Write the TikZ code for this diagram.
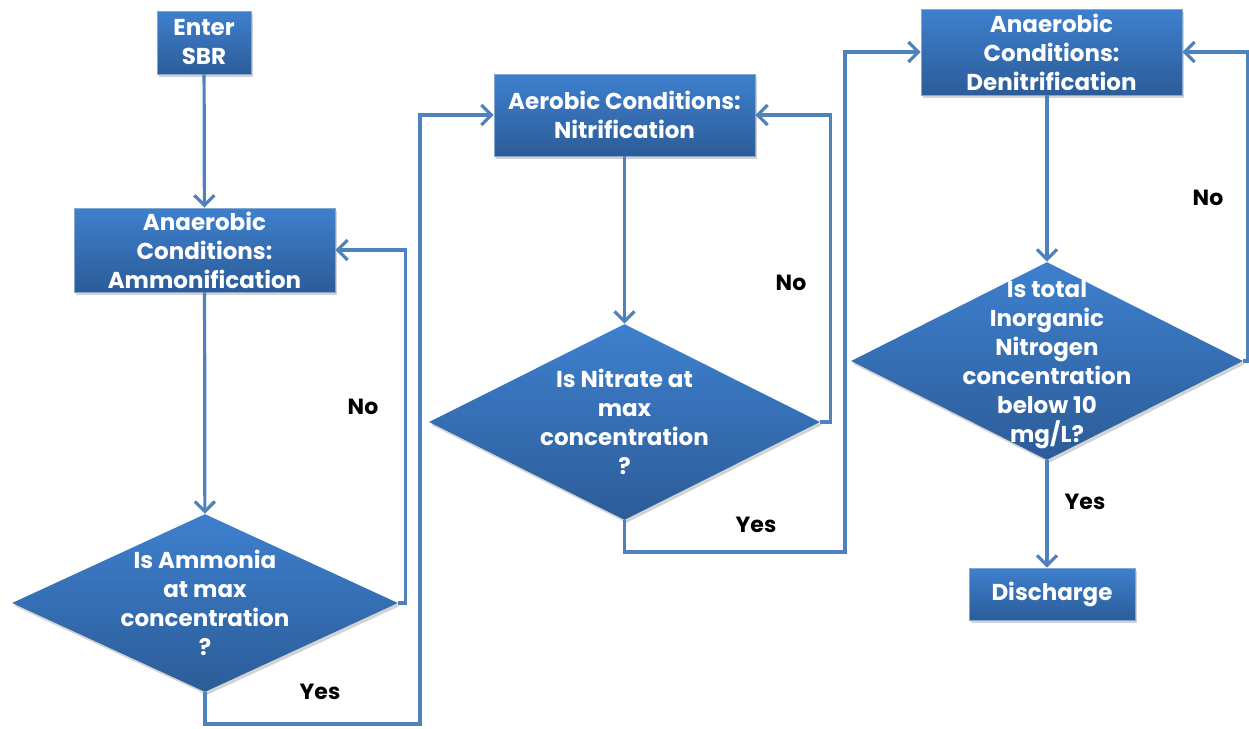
\documentclass[tikz,border=0pt]{standalone}
\usepackage{fontspec}
\setmainfont{Poppins}
\usetikzlibrary{shapes.geometric,arrows.meta,shadows}
\definecolor{flowblue}{RGB}{79,129,189}
\definecolor{boxtop}{RGB}{62,128,206}
\definecolor{boxbot}{RGB}{44,92,152}
\tikzset{
 procbox/.style={rectangle,draw=flowblue!70!white,thin,top color=boxtop,bottom color=boxbot,
   text=white,font=\bfseries\fontsize{11.5}{14.5}\selectfont,align=center,inner sep=0pt,
   drop shadow={shadow xshift=1pt,shadow yshift=-1.5pt,opacity=0.35}},
 decision/.style={diamond,draw=none,top color=boxtop,bottom color=boxbot,inner sep=0pt,
   drop shadow={shadow xshift=1pt,shadow yshift=-1.5pt,opacity=0.35}},
 asktext/.style={text=white,font=\bfseries\fontsize{11.5}{14.5}\selectfont,align=center},
 answer/.style={font=\bfseries\fontsize{11}{13}\selectfont,text=black},
 flow/.style={draw=flowblue,line width=1.6pt,-{Straight Barb[length=5pt,width=10pt,line width=1.6pt]}},
 }

\begin{document}
\begin{tikzpicture}[x=0.5pt,y=-0.5pt]
    \useasboundingbox (0,0) rectangle (1249,729);
    % process boxes
    \node[procbox,minimum width=47pt,minimum height=31.5pt] (sbr) at (204,42.5) {Enter\\SBR};
    \node[procbox,minimum width=130.5pt,minimum height=42pt] (ammon) at (204.5,250) {Anaerobic\\Conditions:\\Ammonification};
    \node[procbox,minimum width=130.5pt,minimum height=41pt] (nitr) at (624.5,115) {Aerobic Conditions:\\Nitrification};
    \node[procbox,minimum width=130.5pt,minimum height=43pt] (denit) at (1051.5,52) {Anaerobic\\Conditions:\\Denitrification};
    \node[procbox,minimum width=83pt,minimum height=26pt] (disch) at (1052,594) {Discharge};
    % decisions
    \node[decision,minimum width=193pt,minimum height=89pt,
      label={[asktext]center:Is Ammonia\\at max\\concentration\\?}] (qamm) at (205,603) {};
    \node[decision,minimum width=195.5pt,minimum height=98pt,
      label={[asktext]center:Is Nitrate at\\max\\concentration\\?}] (qnit) at (624.5,422) {};
    \node[decision,minimum width=196pt,minimum height=99pt,
      label={[asktext,yshift=-2pt]center:Is total\\Inorganic\\Nitrogen\\concentration\\below 10\\mg/L?}] (qtin) at (1047,361) {};
    \coordinate (yesa) at (420,724);
    \coordinate (yesn) at (845,552);
    % connectors
    \draw[flow] (sbr) -- (ammon);
    \draw[flow] (ammon) -- (qamm);
    \draw[flow] (qamm.east) -- ++(7,0) |- (ammon.east);
    \draw[flow] (qamm.south) |- (yesa) |- (nitr.west);
    \draw[flow] (nitr) -- (qnit);
    \draw[flow] (qnit.east) -- ++(10,0) |- (nitr.east);
    \draw[flow] (qnit.south) |- (yesn) |- (denit.west);
    \draw[flow] (qtin.north |- denit.south) -- (qtin.north);
    \draw[flow] (qtin.east) -- ++(4,0) |- (denit.east);
    \draw[flow] (qtin.south) -- (qtin.south |- disch.north);
    % answers
    \node[answer] (noa) at (363,407) {No};
    \node[answer] (yesalbl) at (320,692) {Yes};
    \node[answer] (non) at (791,283) {No};
    \node[answer] (yesnlbl) at (756,525) {Yes};
    \node[answer] (notin) at (1208,198) {No};
    \node[answer] (yestin) at (1085,502) {Yes};
\end{tikzpicture}
\end{document}
